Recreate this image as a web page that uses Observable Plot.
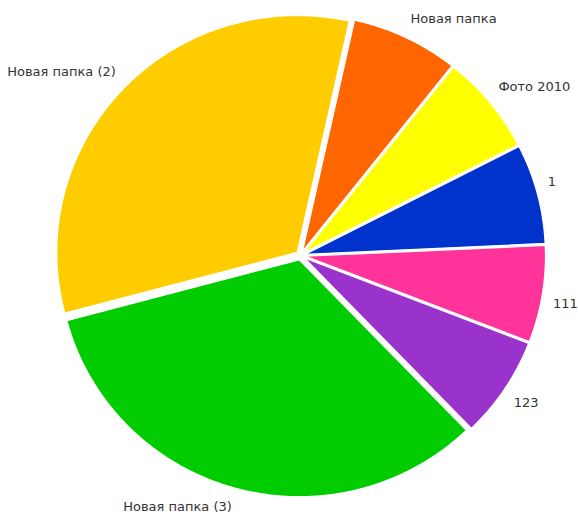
<!DOCTYPE html>
<html>
<head>
<meta charset="utf-8">
<script src="https://cdn.jsdelivr.net/npm/d3@7"></script>
<script src="https://cdn.jsdelivr.net/npm/@observablehq/plot@0.6"></script>
<style>
  html, body { margin: 0; padding: 0; background: #fff; }
  #chart svg { display: block; }
</style>
</head>
<body>
<div id="chart"></div>
<script>
// Data
const labels = ["Новая папка", "Фото 2010", "1", "111", "123", "Новая папка (3)", "Новая папка (2)"];
const values = [7.2, 6.8, 6.8, 6.6, 6.9, 33.1, 32.6];
const colors = ["#ff6600", "#ffff00", "#0033cc", "#ff3399", "#9933cc", "#00cc00", "#ffcc00"];

const startDeg = 12.5;
const explode = 0.019;   // every slice pulled out a little from the centre
const labelR = 1.045;
const ky = 0.985;        // the reference pie is very slightly flattened

const pie = d3.pie().sort(null).value(d => d.value)
  .startAngle(startDeg * Math.PI / 180)
  .endAngle((startDeg + 360) * Math.PI / 180);

const rows = labels.map((label, i) => ({label, value: values[i], color: colors[i]}));
const arcs = pie(rows);

// screen-oriented unit coordinates: x = sin(a), y = -cos(a)
const pt = (a, r, ox, oy) => [ox + r * Math.sin(a), oy - ky * r * Math.cos(a)];

const slices = arcs.map(a => {
  const mid = (a.startAngle + a.endAngle) / 2;
  const [ox, oy] = pt(mid, explode, 0, 0);
  const ring = [[ox, oy]];
  const n = Math.max(2, Math.ceil((a.endAngle - a.startAngle) / (Math.PI / 360)));
  for (let k = 0; k <= n; ++k) {
    const ang = a.startAngle + (a.endAngle - a.startAngle) * k / n;
    ring.push(pt(ang, 1, ox, oy));
  }
  ring.push([ox, oy]);
  const [lx, ly] = pt(mid, labelR, ox, oy);
  return {
    type: "Feature",
    properties: {
      label: a.data.label, color: a.data.color, lx, ly,
      side: Math.sin(mid) >= 0 ? "start" : "end",
      half: Math.cos(mid) >= 0 ? "bottom" : "top"
    },
    geometry: {type: "Polygon", coordinates: [ring]}
  };
});

const domain = {type: "MultiPoint", coordinates: [[-1, -ky], [1, ky]]};

const labelMarks = [];
for (const side of ["start", "end"]) {
  for (const half of ["bottom", "top"]) {
    labelMarks.push(Plot.text(slices.filter(d => d.properties.side === side && d.properties.half === half), {
      x: d => d.properties.lx, y: d => d.properties.ly, text: d => d.properties.label,
      textAnchor: side, lineAnchor: half, dy: half === "bottom" ? -5 : 3,
      fontSize: 13, fill: "#333", clip: false
    }));
  }
}

const chart = Plot.plot({
  width: 578,
  height: 520,
  marginLeft: 59.5,
  marginRight: 37.5,
  marginTop: 18,
  marginBottom: 28,
  projection: {type: "identity", domain, inset: 0, clip: false},
  style: {fontFamily: "DejaVu Sans, Verdana, sans-serif", background: "#fff", overflow: "visible"},
  marks: [
    Plot.geo(slices, {fill: d => d.properties.color, stroke: "#fff", strokeWidth: 1.3, clip: false}),
    ...labelMarks
  ]
});
document.getElementById("chart").appendChild(chart);
</script>
</body>
</html>
